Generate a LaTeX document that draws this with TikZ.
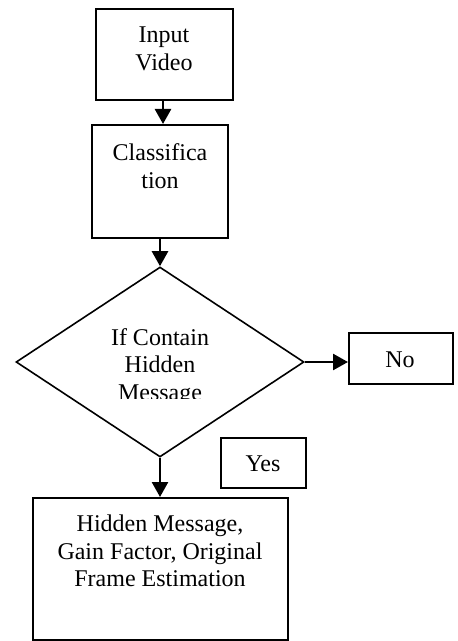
\documentclass[tikz,border=0pt]{standalone}
\usepackage{fontspec}
\setmainfont{Liberation Serif}
\usetikzlibrary{shapes.geometric,arrows.meta}
\begin{document}
\begin{tikzpicture}[x=0.5pt,y=-0.5pt,
  boxnode/.style={draw,line width=1pt,rectangle,inner sep=0pt},
  txt/.style={align=center,font=\fontsize{12pt}{13.8pt}\selectfont,inner sep=0pt},
  conn/.style={line width=1.3pt,-{Triangle[width=8pt,length=7.5pt]}}]
\useasboundingbox (0,0) rectangle (457,641);
% Input Video
\node[boxnode,minimum width=137*0.5pt,minimum height=91*0.5pt] (in) at (164.5,54.5) {};
\node[txt] (intxt) at (164,49) {Input\\Video};
% Classification
\node[boxnode,minimum width=136*0.5pt,minimum height=113*0.5pt] (cls) at (160,181.5) {};
\node[txt] (clstxt) at (160,166) {Classifica\\tion};
% Diamond
\node[draw,line width=0.8pt,shape=diamond,inner sep=0pt,aspect=1.5,
  minimum width=288*0.5pt,minimum height=190*0.5pt] (dec) at (160,362) {};
\begin{scope}
\clip (0,300) rectangle (457,398.5);
\node[txt] (dectxt) at (160,367) {If Contain\\Hidden\\Message};
\end{scope}
% No
\node[boxnode,minimum width=104*0.5pt,minimum height=51*0.5pt] (no) at (401,358.5) {};
\node[txt] (notxt) at (400,360) {No};
% Yes
\node[boxnode,minimum width=85*0.5pt,minimum height=50*0.5pt] (yes) at (263.5,463) {};
\node[txt] (yestxt) at (263,464) {Yes};
% Bottom
\node[boxnode,minimum width=255*0.5pt,minimum height=142*0.5pt] (out) at (160.5,569) {};
\node[txt] (outtxt) at (160,551) {Hidden Message,\\Gain Factor, Original\\Frame Estimation};
% connectors
\draw[conn] (in.south -| intxt.south) ++(-1,0) coordinate (a1) -- (a1 |- cls.north);
\draw[conn] (cls.south -| dec.north) -- (dec.north);
\draw[conn] (dec.east) -- (no.west |- dec.east);
\draw[conn] (dec.south) -- (dec.south |- out.north);
\end{tikzpicture}
\end{document}
